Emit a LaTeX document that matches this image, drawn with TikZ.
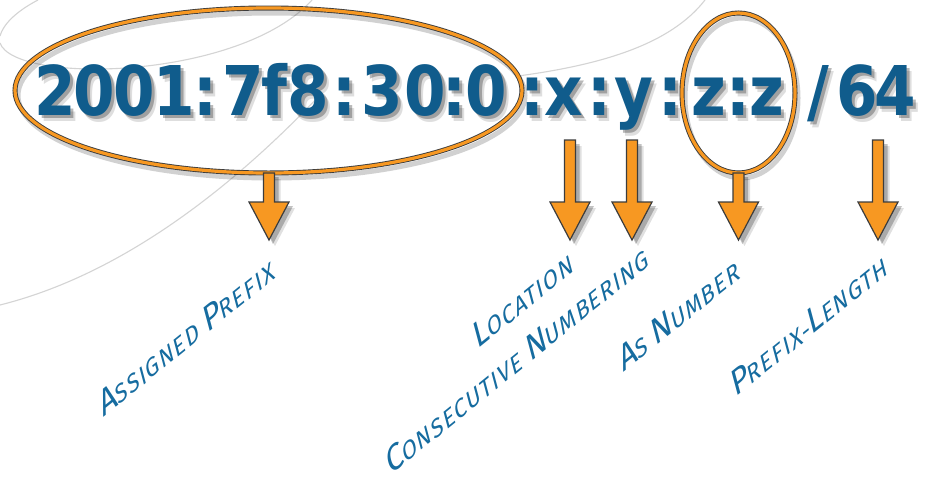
\documentclass[tikz,border=0pt]{standalone}
\usepackage{fontspec}
\usetikzlibrary{shapes.geometric}
\newfontfamily\mainf{DejaVu Sans}
\newfontfamily\labf{Fira Sans}[LetterSpace=6]
\definecolor{mainblue}{RGB}{16,92,140}
\definecolor{labblue}{RGB}{22,108,160}
\definecolor{orangeC}{RGB}{247,152,34}
\definecolor{outl}{RGB}{60,60,60}
\definecolor{decor}{RGB}{212,212,212}
\newcommand\lsc[2]{{\fontsize{35}{35}\selectfont #1}{\fontsize{25}{25}\selectfont #2}}
\newcommand\barrow[3]{%
  \coordinate (#3top) at (#1,#2);
  \coordinate (#3tip) at (#1,240);
  \foreach \dd/\op in {6/0.12,4/0.24}{%
    \fill[black,opacity=\op,xshift=\dd pt,yshift=-\dd pt]
      (#1-5.5,#2) -- (#1+5.5,#2) -- (#1+5.5,202) -- (#1+20,202) -- (#1,240) -- (#1-20,202) -- (#1-5.5,202) -- cycle;}
  \filldraw[fill=orangeC,draw=outl,line width=1.2pt,line join=miter]
      (#1-5.5,#2) -- (#1+5.5,#2) -- (#1+5.5,202) -- (#1+20,202) -- (#1,240) -- (#1-20,202) -- (#1-5.5,202) -- cycle;
}
\begin{document}
\begin{tikzpicture}[x=1pt,y=-1pt,
  mainch/.style={font=\mainf\bfseries\fontsize{68.6}{70}\selectfont, text=mainblue, anchor=base, inner sep=0pt, xscale=0.87},
  lab/.style={font=\labf\fontsize{25}{25}\selectfont, text=labblue, anchor=base west, inner sep=0pt,
              cm={0.777,0.629,-0.259,0.966,(0,0)}},
  oval/.style={ellipse, draw=outl, double=orangeC, double distance=3.2pt, line width=0.9pt, inner sep=0pt},
  ovalsh/.style={ellipse, draw=black, opacity=0.18, line width=5pt, inner sep=0pt},
  deco/.style={draw=decor, line width=1.1pt}]
\useasboundingbox (0,0) rectangle (932,482);
\fill[white] (0,0) rectangle (932,482);
% decorative background curves
\draw[deco] (0,305) .. controls (120,275) and (230,190) .. (320,95);
\draw[deco] (0,43) .. controls (15,85) and (240,80) .. (312,0);
\draw[deco] (38,0) .. controls (15,12) and (3,25) .. (0,36);
\draw[deco] (705,0) .. controls (670,45) and (600,65) .. (518,76);
% text shadow
\foreach \ch/\cx [count=\i] in {2/55,0/94,0/134,1/174,:/205,7/243,f/274,8/308,:/344,3/382,0/425,:/454,0/486,:/532,x/564,:/599,y/634,:/670,z/709,:/738,z/767,6/857,4/895}{%
  \node[mainch,text=black,opacity=0.13,xshift=6pt,yshift=-6pt] (s\i) at (\cx,115) {\ch};
  \node[mainch,text=black,opacity=0.28,xshift=3.5pt,yshift=-3.5pt] (t\i) at (\cx,115) {\ch};
}
\node[mainch,text=black,opacity=0.13,xshift=6pt,yshift=-6pt] (sslash) at (818,115) {/};
\node[mainch,text=black,opacity=0.28,xshift=3.5pt,yshift=-3.5pt] (tslash) at (818,115) {/};
% main text
\foreach \ch/\cx [count=\i] in {2/55,0/94,0/134,1/174,:/205,7/243,f/274,8/308,:/344,3/382,0/425,:/454,0/486,:/532,x/564,:/599,y/634,:/670,z/709,:/738,z/767,6/857,4/895}{%
  \node[mainch] (c\i) at (\cx,115) {\ch};
}
\node[mainch] (cslash) at (818,115) {/};
% ellipses
\node[ovalsh, minimum width=507pt, minimum height=165pt, xshift=3pt, yshift=-5pt] (E1s) at (268.5,90.5) {};
\node[ovalsh, minimum width=113pt, minimum height=160pt, xshift=3pt, yshift=-5pt] (E2s) at (738.5,93) {};
\node[oval, minimum width=507pt, minimum height=165pt] (E1) at (268.5,90.5) {};
\node[oval, minimum width=113pt, minimum height=160pt] (E2) at (738.5,93) {};
% arrows
\barrow{269}{173}{aP}
\barrow{570}{140}{aL}
\barrow{632}{140}{aC}
\barrow{738.5}{173}{aA}
\barrow{878}{140}{aX}
% labels
\node[lab] (lP) at (103,418) {\lsc{A}{SSIGNED} \lsc{P}{REFIX}};
\node[lab] (lL) at (477,350) {\lsc{L}{OCATION}};
\node[lab] (lC) at (390,476) {\lsc{C}{ONSECUTIVE} \lsc{N}{UMBERING}};
\node[lab] (lA) at (623,373) {\lsc{A}{S} \lsc{N}{UMBER}};
\node[lab] (lX) at (735,398) {\lsc{P}{REFIX-}\lsc{L}{ENGTH}};
\end{tikzpicture}
\end{document}
